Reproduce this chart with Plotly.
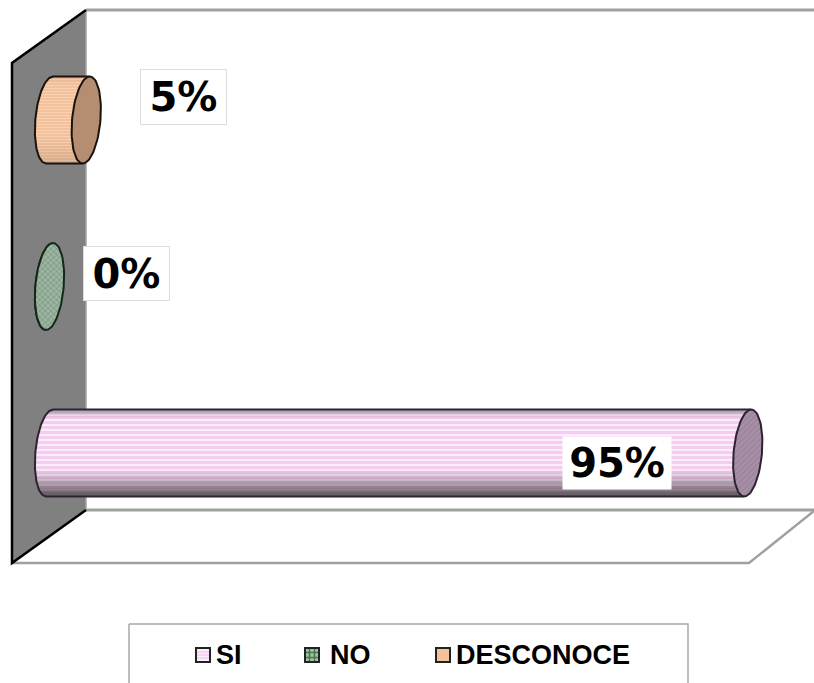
import math
import plotly.graph_objects as go

categories = ["SI", "NO", "DESCONOCE"]
values = [95, 0, 5]
tick_suffix = "%"

W, H = 814, 683
PX_PER_UNIT = 7.35      # pixels per percentage point
ZERO_PX = 49.5          # pixel position of 0 %
SI_CENTER_PX = 453      # pixel position of first category
CAT_STEP_PX = 166.5     # pixels between categories
R_Y = 43.5              # cylinder radius (px, vertical)
R_X = 14.2              # end-cap radius (px, horizontal)
SHEAR = 3.5             # end-cap lean (px)

STYLES = {
    "SI": dict(light="#fbeefb", base="#f5cdf0", cap_bg="#a78fa8", cap_fg="#8d758e", cap_shape="/",
               outline="#2e2230", period=5, n_light=2, dark=0.62),
    "NO": dict(light="#a8bfac", base="#8aa88f", cap_bg="#9cb5a1", cap_fg="#55775d", cap_shape="x",
               outline="#14281a", period=4, n_light=2, dark=0.3),
    "DESCONOCE": dict(light="#f8d2b2", base="#f3c19c", cap_bg="#b58d70", cap_fg="#aa8266", cap_shape="",
                      outline="#1a120c", period=3, n_light=1, dark=0.12),
}


def px2x(px):
    return (px - ZERO_PX) / PX_PER_UNIT


def hex2rgb(c):
    return tuple(int(c[i:i + 2], 16) for i in (1, 3, 5))


def shade(c, f):
    r, g, b = hex2rgb(c)
    return f"rgb({int(r * f)},{int(g * f)},{int(b * f)})"


def shade_at(t, dark):
    if t > 0.35:
        return 1 - dark * ((t - 0.35) / 0.65) ** 1.3
    if t < -0.75:
        return 1 - 0.55 * dark * ((-t - 0.75) / 0.25) ** 1.5
    return 1.0


def px_x(p):
    return p / W


def px_y(p):
    return 1 - p / H


fig = go.Figure()

rx = R_X / PX_PER_UNIT
sh = SHEAR / PX_PER_UNIT
dy_unit = R_Y / CAT_STEP_PX

# cylinder bodies, built as thin stripes so they carry the shading
for i, (cat, val) in enumerate(zip(categories, values)):
    st = STYLES[cat]
    n = int(2 * R_Y)
    ys, xs, bases, cols = [], [], [], []
    for k in range(n):
        t = -1 + 2 * (k + 0.5) / n
        left = -rx * math.sqrt(1 - t * t) - sh * t
        right = val - sh * t
        ys.append(i - dy_unit * t)
        bases.append(left)
        xs.append(right - left)
        c = st["light"] if k % st["period"] < st["n_light"] else st["base"]
        cols.append(shade(c, shade_at(t, st["dark"])))
    fig.add_trace(go.Bar(
        y=ys, x=xs, base=bases, orientation="h", width=2 * dy_unit / n * 1.05,
        marker=dict(color=cols, line=dict(width=0)), name=cat, showlegend=False, hoverinfo="skip",
    ))

# outlines and end caps
for i, (cat, val) in enumerate(zip(categories, values)):
    st = STYLES[cat]
    ts = [-1 + 2 * k / 60 for k in range(61)]
    ox = [val + sh] + [-rx * math.sqrt(1 - t * t) - sh * t for t in ts] + [val - sh]
    oy = [i + dy_unit] + [i - dy_unit * t for t in ts] + [i - dy_unit]
    fig.add_trace(go.Scatter(x=ox, y=oy, mode="lines", line=dict(color=st["outline"], width=2),
                             showlegend=False, hoverinfo="skip"))
    angs = [2 * math.pi * k / 80 for k in range(81)]
    cx = [val + rx * math.cos(a) + sh * math.sin(a) for a in angs]
    cy = [i + dy_unit * math.sin(a) for a in angs]
    fp = dict(shape=st["cap_shape"], bgcolor=st["cap_bg"], fgcolor=st["cap_fg"], size=4, solidity=0.35)
    fig.add_trace(go.Scatter(x=cx, y=cy, mode="lines", fill="toself", fillcolor=st["cap_bg"],
                             fillpattern=fp, line=dict(color=st["outline"], width=2),
                             showlegend=False, hoverinfo="skip"))

# 3-D frame
shapes = []


def poly(pts, fill=None, color=None, width=0):
    path = "M " + " L ".join(f"{px_x(x):.5f} {px_y(y):.5f}" for x, y in pts)
    if fill:
        path += " Z"
    shapes.append(dict(type="path", xref="paper", yref="paper", path=path, layer="below",
                       fillcolor=fill or "rgba(0,0,0,0)",
                       line=dict(color=color or "rgba(0,0,0,0)", width=width)))


poly([(12, 63), (86, 10), (86, 510), (12, 563)], fill="#808080")
poly([(86, 10), (814, 10)], color="#a0a0a0", width=3)
poly([(86, 10), (86, 510)], color="#a3a3a3", width=1.5)
poly([(86, 510), (814, 510)], color="#a0a0a0", width=3)
poly([(12, 563), (749, 563), (814, 511)], color="#a0a0a0", width=2.5)
poly([(86, 10), (12, 63), (12, 563), (86, 510)], color="#000000", width=2.5)

# legend box and swatches
poly([(129, 624), (688, 624), (688, 700), (129, 700), (129, 624)], color="#a8a8a8", width=1.5)
swatches = [196, 305, 436]
texts = [214, 328, 454]
for cat, sx in zip(categories, swatches):
    st = STYLES[cat]
    shapes.append(dict(type="rect", xref="paper", yref="paper", x0=px_x(sx), x1=px_x(sx + 14),
                       y0=px_y(662), y1=px_y(648), fillcolor=st["light"] if cat != "DESCONOCE" else st["base"],
                       line=dict(color="#222222", width=2)))
    if cat == "SI":
        for yy in (652, 655, 658):
            shapes.append(dict(type="line", xref="paper", yref="paper", x0=px_x(sx + 1), x1=px_x(sx + 13),
                               y0=px_y(yy), y1=px_y(yy), line=dict(color=st["base"], width=1.5)))
    if cat == "NO":
        for d in (4.5, 9.5):
            shapes.append(dict(type="line", xref="paper", yref="paper", x0=px_x(sx + d), x1=px_x(sx + d),
                               y0=px_y(649), y1=px_y(661), line=dict(color="#3f7a4c", width=1.5)))
            shapes.append(dict(type="line", xref="paper", yref="paper", x0=px_x(sx + 1), x1=px_x(sx + 13),
                               y0=px_y(648 + d), y1=px_y(648 + d), line=dict(color="#3f7a4c", width=1.5)))

annotations = []
for cat, tx in zip(categories, texts):
    annotations.append(dict(xref="paper", yref="paper", x=px_x(tx), y=px_y(655), text=f"<b>{cat}</b>",
                            xanchor="left", yanchor="middle", showarrow=False,
                            font=dict(family="Liberation Sans", size=27, color="#000000")))

# data labels: (shift in x, shift in y, box size, border colour, font size)
label_style = {
    "SI": (-131, -10, 108, 52, "rgba(255,255,255,0)", 40),
    "NO": (76.5, 13.5, 85, 53, "#dddddd", 40),
    "DESCONOCE": (97, 23.5, 85, 54, "#dddddd", 40),
}
for i, (cat, val) in enumerate(zip(categories, values)):
    xs_, ys_, bw, bh, bc, fs = label_style[cat]
    annotations.append(dict(x=val, y=i, xref="x", yref="y", xshift=xs_, yshift=ys_,
                            text=f"<b>{val}{tick_suffix}</b>", showarrow=False,
                            width=bw, height=bh, align="center", valign="middle",
                            bgcolor="#ffffff", bordercolor=bc, borderwidth=1, borderpad=0,
                            font=dict(family="DejaVu Sans", size=fs, color="#000000")))

fig.update_layout(
    width=W, height=H, autosize=False, margin=dict(l=0, r=0, t=0, b=0),
    paper_bgcolor="#ffffff", plot_bgcolor="rgba(0,0,0,0)", barmode="overlay", showlegend=False,
    xaxis=dict(range=[px2x(0), px2x(W)], visible=False, fixedrange=True),
    yaxis=dict(range=[(SI_CENTER_PX - H) / CAT_STEP_PX, SI_CENTER_PX / CAT_STEP_PX], visible=False, fixedrange=True),
    shapes=shapes, annotations=annotations,
)

fig.write_html("out.html", config=dict(displayModeBar=False),
               post_script="document.body.style.margin='0';document.body.style.overflow='hidden';")
